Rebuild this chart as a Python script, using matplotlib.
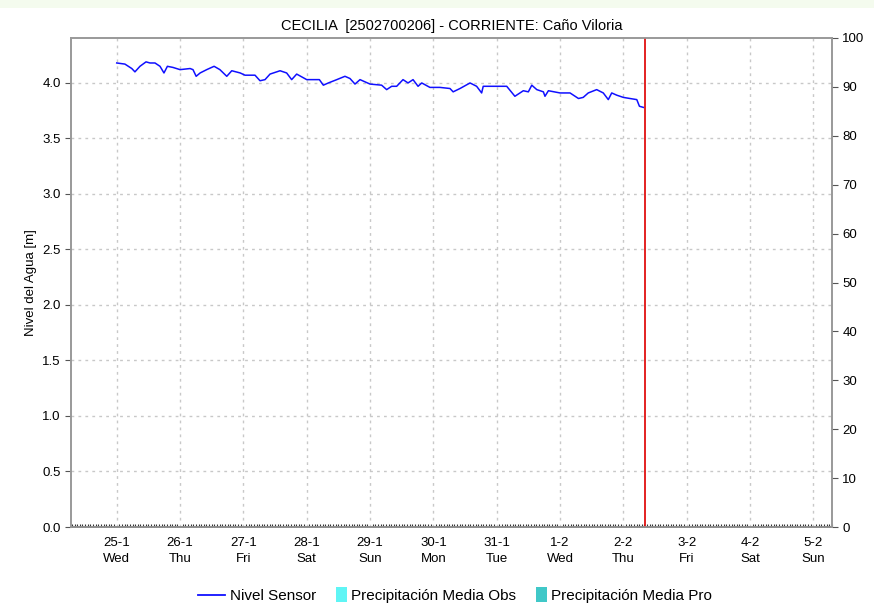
import numpy as np
import pandas as pd
import matplotlib
matplotlib.use("Agg")
import matplotlib.pyplot as plt
import matplotlib.dates as mdates
from matplotlib.patches import Rectangle, Patch
from matplotlib.lines import Line2D
from matplotlib.legend_handler import HandlerPatch

plt.rcParams['font.family'] = ['Liberation Sans', 'DejaVu Sans']

# hours after 25-1-2023 00:00 and water level [m]
hours = [0, 3.1, 5.7, 6.9, 8.8, 11.1, 12.6, 14.5, 16.4, 17.9, 19.2, 21.3, 24.0,
         27.8, 28.9, 30.1, 31.6, 34.1, 36.9, 39.1, 41.7, 43.6, 46.8, 48.6, 52.4,
         54.3, 56.2, 58.1, 61.9, 64.4, 66.3, 68.2, 72.0, 76.8, 78.3, 80.2, 83.4,
         86.5, 88.4, 90.3, 92.2, 96.0, 100.4, 102.3, 104.2, 106.1, 108.5, 110.4,
         112.3, 114.2, 115.6, 118.7, 122.5, 126.3, 127.5, 130.1, 133.9, 136.4,
         138.3, 138.9, 140.8, 147.8, 150.9, 154.1, 156.0, 157.3, 159.2, 161.7,
         162.3, 163.6, 168.0, 171.8, 175.0, 176.8, 178.7, 181.9, 184.4, 186.3,
         187.6, 189.5, 192.0, 194.5, 197.1, 198.1, 199.6]
nivel = [4.18, 4.17, 4.13, 4.10, 4.15, 4.19, 4.18, 4.18, 4.15, 4.09, 4.15, 4.14, 4.12,
         4.13, 4.12, 4.06, 4.09, 4.12, 4.15, 4.12, 4.06, 4.11, 4.09, 4.07, 4.07,
         4.02, 4.03, 4.08, 4.11, 4.09, 4.03, 4.08, 4.03, 4.03, 3.98, 4.00, 4.03,
         4.06, 4.04, 3.99, 4.03, 3.99, 3.98, 3.94, 3.97, 3.97, 4.03, 4.00,
         4.03, 3.97, 4.00, 3.96, 3.96, 3.95, 3.92, 3.95, 4.00, 3.97,
         3.91, 3.97, 3.97, 3.97, 3.88, 3.93, 3.92, 3.98, 3.94, 3.92,
         3.88, 3.93, 3.91, 3.91, 3.86, 3.87, 3.91, 3.94, 3.91, 3.85,
         3.91, 3.89, 3.87, 3.86, 3.85, 3.79, 3.78]

start = pd.Timestamp('2023-01-25 00:00')
now_line = pd.Timestamp('2023-02-02 08:10')
x_min = pd.Timestamp('2023-01-24 06:40')
x_max = pd.Timestamp('2023-02-05 07:05')
day_ticks = pd.date_range('2023-01-25', '2023-02-05', freq='D')
dias = ['Mon', 'Tue', 'Wed', 'Thu', 'Fri', 'Sat', 'Sun']
tick_labels = [f"{d.day}-{d.month}\n{dias[d.weekday()]}" for d in day_ticks]

times = [start + pd.Timedelta(hours=h) for h in hours]

fig = plt.figure(figsize=(8.74, 6.04), dpi=100)
fig.patches.append(Rectangle((0, 1 - 8 / 604), 1, 8 / 604, transform=fig.transFigure,
                             facecolor='#f4fbee', edgecolor='none'))
ax = fig.add_axes([71 / 874, 1 - 527 / 604, (832 - 71) / 874, (527 - 38) / 604])
ax2 = ax.twinx()

ax.plot(times, nivel, color='#1010ff', lw=1.1, zorder=3)
ax.axvline(now_line, color='#e01010', lw=1.3, zorder=4)

ax.set_xlim(x_min, x_max)
ax.set_ylim(0, 4.405)
ax.set_yticks(np.arange(0, 4.01, 0.5))
ax.set_yticklabels([f"{v:.1f}" for v in np.arange(0, 4.01, 0.5)])
ax.set_xticks(day_ticks)
ax.set_xticklabels(tick_labels, linespacing=1.45)
ax.xaxis.set_minor_locator(mdates.HourLocator())
ax.tick_params(axis='x', which='minor', length=2, width=0.8, color='#333333', direction='in')
ax.tick_params(axis='x', which='major', length=0, labelsize=9.5, pad=7)
ax.tick_params(axis='y', length=4, color='#555555', labelsize=9.5)
ax.grid(True, color='#c8c8c8', ls=(0, (2, 3)), lw=1)

ax2.set_ylim(0, 100)
ax2.set_yticks(np.arange(0, 101, 10))
ax2.tick_params(axis='y', length=4, color='#555555', labelsize=9.5)

for a in (ax, ax2):
    for s in a.spines.values():
        s.set_color('#999999')
        s.set_linewidth(1.2)
ax.spines['bottom'].set_color('#444444')

ax.set_ylabel('Nivel del Agua [m]', fontsize=9.5, labelpad=4)
ax.set_title('CECILIA  [2502700206] - CORRIENTE: Caño Viloria', fontsize=10.5, pad=6)


def narrow_box(legend, orig_handle, xdescent, ydescent, width, height, fontsize):
    return Rectangle((width - 0.4 * width, -ydescent - 0.2 * height), 0.4 * width, 1.4 * height)


handles = [Line2D([0], [0], color='#1010ff', lw=1.3),
           Patch(facecolor='#5ff5f5', edgecolor='none'),
           Patch(facecolor='#40c8c8', edgecolor='none')]
fig.legend(handles, ['Nivel Sensor', 'Precipitación Media Obs', 'Precipitación Media Pro'],
           loc='center', bbox_to_anchor=(455 / 874, 1 - 596 / 604), ncol=3, frameon=False,
           fontsize=11, handlelength=1.8, handletextpad=0.3, columnspacing=0.2,
           handler_map={Patch: HandlerPatch(patch_func=narrow_box)})

fig.savefig('out.png', dpi=100)
